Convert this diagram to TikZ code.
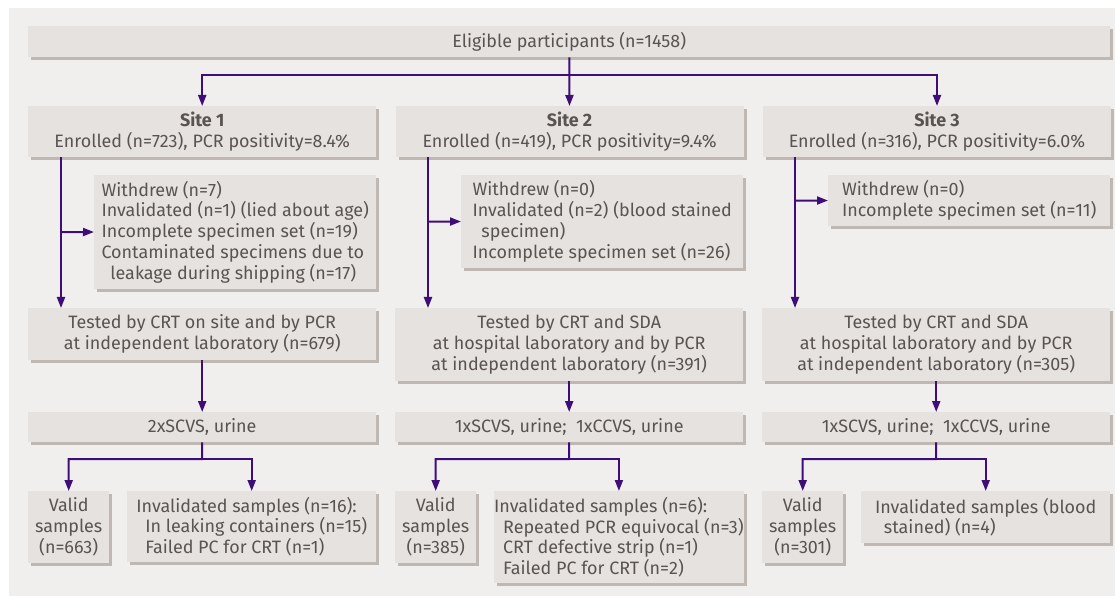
\documentclass[tikz,border=0pt]{standalone}
\usepackage{fontspec}
\setmainfont{Fira Sans}
\usetikzlibrary{positioning,shadows,arrows.meta}
\definecolor{panelgrey}{HTML}{F1EFEE}
\definecolor{boxgrey}{HTML}{E6E2DF}
\definecolor{shadegrey}{HTML}{BFB7B2}
\definecolor{flowpurple}{HTML}{3E0E78}
\definecolor{textgrey}{HTML}{595452}
\begin{document}
\begin{tikzpicture}[
    x=1bp, y=-1bp,
    font=\fontsize{18}{21}\selectfont,
    text=textgrey,
    box/.style={rectangle, fill=boxgrey, inner sep=0pt, anchor=north west,
        drop shadow={fill=shadegrey, opacity=1, shadow xshift=3bp, shadow yshift=-3bp}},
    centrebox/.style={box, align=center},
    listbox/.style={box, align=left},
    line/.style={flowpurple, line width=2bp},
    arrow/.style={line, -{Triangle[length=11bp,width=8bp]}}
]
    \useasboundingbox (0,0) rectangle (1115,596);
    \fill[panelgrey] (9,8) rectangle (1115,596);

    % Enrolment
    \node[centrebox, minimum width=1082bp, minimum height=31bp] (elig) at (28,26) {Eligible participants (n=1458)};
    \node[centrebox, minimum width=348bp, minimum height=51bp] (site1) at (28,106) {\textbf{Site 1}\\Enrolled (n=723), PCR positivity=8.4\%};
    \node[centrebox, minimum width=348bp, minimum height=51bp, right=19bp of site1] (site2) {\textbf{Site 2}\\Enrolled (n=419), PCR positivity=9.4\%};
    \node[centrebox, minimum width=348bp, minimum height=51bp, right=19bp of site2] (site3) {\textbf{Site 3}\\Enrolled (n=316), PCR positivity=6.0\%};

    % Exclusions
    \node[listbox, minimum width=282bp, minimum height=114bp] (wd1) at (94,175) {Withdrew (n=7)\\Invalidated (n=1) (lied about age)\\Incomplete specimen set (n=19)\\Contaminated specimens due to\\\hspace*{0.5em}leakage during shipping (n=17)};
    \node[listbox, minimum width=282bp, minimum height=93bp] (wd2) at (461,175) {Withdrew (n=0)\\Invalidated (n=2) (blood stained\\\hspace*{0.5em}specimen)\\Incomplete specimen set (n=26)};
    \node[listbox, minimum width=282bp, minimum height=51bp] (wd3) at (828,175) {Withdrew (n=0)\\Incomplete specimen set (n=11)};

    % Testing
    \node[centrebox, minimum width=348bp, minimum height=52bp] (tested1) at (28,308) {Tested by CRT on site and by PCR\\at independent laboratory (n=679)};
    \node[centrebox, minimum width=348bp, minimum height=73bp] (tested2) at (395,308) {Tested by CRT and SDA\\at hospital laboratory and by PCR\\at independent laboratory (n=391)};
    \node[centrebox, minimum width=348bp, minimum height=73bp] (tested3) at (762,308) {Tested by CRT and SDA\\at hospital laboratory and by PCR\\at independent laboratory (n=305)};

    % Specimens
    \node[centrebox, minimum width=348bp, minimum height=30bp] (samp1) at (28,412) {2xSCVS, urine};
    \node[centrebox, minimum width=348bp, minimum height=30bp] (samp2) at (395,412) {1xSCVS, urine;\ \ 1xCCVS, urine};
    \node[centrebox, minimum width=348bp, minimum height=30bp] (samp3) at (762,412) {1xSCVS, urine;\ \ 1xCCVS, urine};

    % Results
    \node[centrebox, minimum width=81bp, minimum height=72bp] (valid1) at (28,491) {Valid\\samples\\(n=663)};
    \node[listbox, minimum width=249bp, minimum height=71bp] (inval1) at (127,491) {Invalidated samples (n=16):\\\hspace*{0.5em}In leaking containers (n=15)\\\hspace*{0.5em}Failed PC for CRT (n=1)};
    \node[centrebox, minimum width=81bp, minimum height=72bp] (valid2) at (395,491) {Valid\\samples\\(n=385)};
    \node[listbox, minimum width=249bp, minimum height=92bp] (inval2) at (494,491) {Invalidated samples (n=6):\\\hspace*{0.5em}Repeated PCR equivocal (n=3)\\\hspace*{0.5em}CRT defective strip (n=1)\\\hspace*{0.5em}Failed PC for CRT (n=2)};
    \node[centrebox, minimum width=81bp, minimum height=72bp] (valid3) at (762,491) {Valid\\samples\\(n=301)};
    \node[listbox, minimum width=249bp, minimum height=52bp] (inval3) at (861,491) {Invalidated samples (blood\\\hspace*{0.5em}stained) (n=4)};

    % Branch points
    \coordinate (fork0) at (569,75);
    \coordinate (drop1) at (61,232);
    \coordinate (drop2) at (428,221.5);
    \coordinate (drop3) at (795,200.5);
    \coordinate (fork1) at (202,459);
    \coordinate (fork2) at (569,459);
    \coordinate (fork3) at (936,459);

    % Arrows
    \draw[arrow] (elig) -- (site2);
    \draw[arrow] (fork0) -| (site1);
    \draw[arrow] (fork0) -| (site3);

    \draw[arrow] (site1.south -| drop1) -- (tested1.north -| drop1);
    \draw[arrow] (site2.south -| drop2) -- (tested2.north -| drop2);
    \draw[arrow] (site3.south -| drop3) -- (tested3.north -| drop3);
    \draw[arrow] (drop1) -- (wd1);
    \draw[arrow] (drop2) -- (wd2);
    \draw[arrow] (drop3) -- (wd3);

    \draw[arrow] (tested1) -- (samp1);
    \draw[arrow] (tested2) -- (samp2);
    \draw[arrow] (tested3) -- (samp3);

    \draw[arrow] (samp1) -- (fork1) -| (valid1);
    \draw[arrow] (fork1) -| (inval1);
    \draw[arrow] (samp2) -- (fork2) -| (valid2);
    \draw[arrow] (fork2) -| (inval2);
    \draw[arrow] (samp3) -- (fork3) -| (valid3);
    \draw[arrow] (fork3) -| (inval3);
\end{tikzpicture}
\end{document}
